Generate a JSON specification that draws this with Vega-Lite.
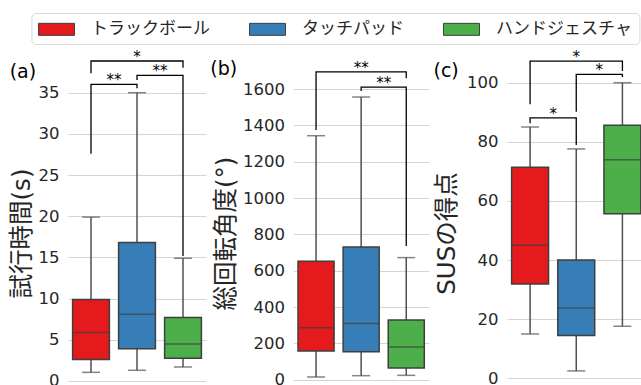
{
  "$schema": "https://vega.github.io/schema/vega-lite/v6.json",
  "padding": {"left": 9, "top": 12, "right": -3, "bottom": -5},
  "autosize": {"type": "pad"},
  "spacing": 3.5,
  "datasets": {
    "boxA": [
      {"cond": "トラックボール", "lo": 1.05, "q1": 2.6, "med": 5.9, "q3": 9.9, "hi": 19.9},
      {"cond": "タッチパッド", "lo": 1.3, "q1": 3.9, "med": 8.1, "q3": 16.8, "hi": 35.0},
      {"cond": "ハンドジェスチャ", "lo": 1.7, "q1": 2.75, "med": 4.5, "q3": 7.7, "hi": 14.9}
    ],
    "brA": [
      {"br": 1, "i": 1, "cond": "トラックボール", "v": 27.6},
      {"br": 1, "i": 2, "cond": "トラックボール", "v": 36.02},
      {"br": 1, "i": 3, "cond": "タッチパッド", "v": 36.02},
      {"br": 1, "i": 4, "cond": "タッチパッド", "v": 35.53},
      {"br": 2, "i": 1, "cond": "タッチパッド", "v": 36.54},
      {"br": 2, "i": 2, "cond": "タッチパッド", "v": 37.11},
      {"br": 2, "i": 3, "cond": "ハンドジェスチャ", "v": 37.11},
      {"br": 2, "i": 4, "cond": "ハンドジェスチャ", "v": 15.18},
      {"br": 3, "i": 1, "cond": "トラックボール", "v": 37.36},
      {"br": 3, "i": 2, "cond": "トラックボール", "v": 38.85},
      {"br": 3, "i": 3, "cond": "ハンドジェスチャ", "v": 38.85},
      {"br": 3, "i": 4, "cond": "ハンドジェスチャ", "v": 38.04}
    ],
    "txA": [
      {"cond": "トラックボール", "v": 36.02, "label": "**", "at": "gap"},
      {"cond": "タッチパッド", "v": 37.11, "label": "**", "at": "gap"},
      {"cond": "タッチパッド", "v": 38.85, "label": "*", "at": "mid"}
    ],
    "boxB": [
      {"cond": "トラックボール", "lo": 15, "q1": 158, "med": 286, "q3": 652, "hi": 1343},
      {"cond": "タッチパッド", "lo": 22, "q1": 154, "med": 310, "q3": 730, "hi": 1556},
      {"cond": "ハンドジェスチャ", "lo": 24, "q1": 64, "med": 180, "q3": 328, "hi": 672}
    ],
    "brB": [
      {"br": 1, "i": 1, "cond": "トラックボール", "v": 1374},
      {"br": 1, "i": 2, "cond": "トラックボール", "v": 1694},
      {"br": 1, "i": 3, "cond": "ハンドジェスチャ", "v": 1694},
      {"br": 1, "i": 4, "cond": "ハンドジェスチャ", "v": 1659},
      {"br": 2, "i": 1, "cond": "タッチパッド", "v": 1589},
      {"br": 2, "i": 2, "cond": "タッチパッド", "v": 1611},
      {"br": 2, "i": 3, "cond": "ハンドジェスチャ", "v": 1611},
      {"br": 2, "i": 4, "cond": "ハンドジェスチャ", "v": 736}
    ],
    "txB": [
      {"cond": "タッチパッド", "v": 1694, "label": "**", "at": "mid"},
      {"cond": "タッチパッド", "v": 1611, "label": "**", "at": "gap"}
    ],
    "boxC": [
      {"cond": "トラックボール", "lo": 15, "q1": 31.9, "med": 45, "q3": 71.4, "hi": 85},
      {"cond": "タッチパッド", "lo": 2.5, "q1": 14.5, "med": 23.8, "q3": 40, "hi": 77.6},
      {"cond": "ハンドジェスチャ", "lo": 17.6, "q1": 55.7, "med": 73.9, "q3": 85.6, "hi": 100}
    ],
    "brC": [
      {"br": 1, "i": 1, "cond": "トラックボール", "v": 92.7},
      {"br": 1, "i": 2, "cond": "トラックボール", "v": 107.3},
      {"br": 1, "i": 3, "cond": "ハンドジェスチャ", "v": 107.3},
      {"br": 1, "i": 4, "cond": "ハンドジェスチャ", "v": 104.0},
      {"br": 2, "i": 1, "cond": "タッチパッド", "v": 90.2},
      {"br": 2, "i": 2, "cond": "タッチパッド", "v": 102.8},
      {"br": 2, "i": 3, "cond": "ハンドジェスチャ", "v": 102.8},
      {"br": 2, "i": 4, "cond": "ハンドジェスチャ", "v": 101.9},
      {"br": 3, "i": 1, "cond": "トラックボール", "v": 86.3},
      {"br": 3, "i": 2, "cond": "トラックボール", "v": 88.1},
      {"br": 3, "i": 3, "cond": "タッチパッド", "v": 88.1},
      {"br": 3, "i": 4, "cond": "タッチパッド", "v": 78.9}
    ],
    "txC": [
      {"cond": "タッチパッド", "v": 107.3, "label": "*", "at": "mid"},
      {"cond": "タッチパッド", "v": 102.8, "label": "*", "at": "gap"},
      {"cond": "トラックボール", "v": 88.1, "label": "*", "at": "gap"}
    ]
  },
  "hconcat": [
    {
      "width": 138, "height": 304,
      "title": {"text": "(a)", "dx": -58.3, "dy": 36},
      "data": {"name": "boxA"},
      "layer": [
        {"mark": {"type": "rule", "color": "#505050", "strokeWidth": 1.5},
         "encoding": {
           "x": {"field": "cond", "type": "nominal", "sort": ["トラックボール", "タッチパッド", "ハンドジェスチャ"], "scale": {"type": "band", "domain": ["トラックボール", "タッチパッド", "ハンドジェスチャ"], "paddingInner": 0.2, "paddingOuter": 0.1}, "axis": null},
           "y": {"field": "lo", "type": "quantitative", "title": "試行時間(s)", "scale": {"domain": [-0.486, 36.42], "nice": false, "zero": false}, "axis": {"values": [0, 5, 10, 15, 20, 25, 30, 35], "format": "d"}},
           "y2": {"field": "q1"}}},
        {"mark": {"type": "rule", "color": "#505050", "strokeWidth": 1.5},
         "encoding": {"x": {"field": "cond", "type": "nominal"}, "y": {"field": "q3", "type": "quantitative", "title": "試行時間(s)", "axis": {"values": [0, 5, 10, 15, 20, 25, 30, 35], "format": "d"}}, "y2": {"field": "hi"}}},
        {"mark": {"type": "tick", "orient": "horizontal", "size": 18, "thickness": 1.5, "color": "#505050"},
         "encoding": {"x": {"field": "cond", "type": "nominal"}, "y": {"field": "lo", "type": "quantitative", "title": "試行時間(s)", "axis": {"values": [0, 5, 10, 15, 20, 25, 30, 35], "format": "d"}}}},
        {"mark": {"type": "tick", "orient": "horizontal", "size": 18, "thickness": 1.5, "color": "#505050"},
         "encoding": {"x": {"field": "cond", "type": "nominal"}, "y": {"field": "hi", "type": "quantitative", "title": "試行時間(s)", "axis": {"values": [0, 5, 10, 15, 20, 25, 30, 35], "format": "d"}}}},
        {"mark": {"type": "bar", "stroke": "#3f3f3f", "strokeWidth": 1.5, "opacity": 1},
         "encoding": {"x": {"field": "cond", "type": "nominal"}, "y": {"field": "q1", "type": "quantitative", "title": "試行時間(s)", "axis": {"values": [0, 5, 10, 15, 20, 25, 30, 35], "format": "d"}}, "y2": {"field": "q3"},
           "color": {"field": "cond", "type": "nominal", "scale": {"domain": ["トラックボール", "タッチパッド", "ハンドジェスチャ"], "range": ["#e41a1c", "#377eb8", "#4daf4a"]}, "legend": {"title": null, "legendX": -36.6, "legendY": -68}}}},
        {"mark": {"type": "tick", "orient": "horizontal", "size": 36.8, "thickness": 1.5, "color": "#3f3f3f"},
         "encoding": {"x": {"field": "cond", "type": "nominal"}, "y": {"field": "med", "type": "quantitative", "title": "試行時間(s)", "axis": {"values": [0, 5, 10, 15, 20, 25, 30, 35], "format": "d"}}}},
        {"data": {"name": "brA"}, "mark": {"type": "line", "color": "black", "strokeWidth": 1.3},
         "encoding": {"x": {"field": "cond", "type": "nominal"}, "y": {"field": "v", "type": "quantitative", "title": "試行時間(s)", "axis": {"values": [0, 5, 10, 15, 20, 25, 30, 35], "format": "d"}}, "detail": {"field": "br"}, "order": {"field": "i", "type": "quantitative"}}},
        {"data": {"name": "txA"}, "transform": [{"filter": "datum.at === 'gap'"}],
         "mark": {"type": "text", "dx": 23, "dy": 1, "fontSize": 15, "baseline": "alphabetic", "color": "black"},
         "encoding": {"x": {"field": "cond", "type": "nominal"}, "y": {"field": "v", "type": "quantitative", "title": "試行時間(s)", "axis": {"values": [0, 5, 10, 15, 20, 25, 30, 35], "format": "d"}}, "text": {"field": "label"}}},
        {"data": {"name": "txA"}, "transform": [{"filter": "datum.at === 'mid'"}],
         "mark": {"type": "text", "dx": 0, "dy": 1, "fontSize": 15, "baseline": "alphabetic", "color": "black"},
         "encoding": {"x": {"field": "cond", "type": "nominal"}, "y": {"field": "v", "type": "quantitative", "title": "試行時間(s)", "axis": {"values": [0, 5, 10, 15, 20, 25, 30, 35], "format": "d"}}, "text": {"field": "label"}}}
      ]
    },
    {
      "width": 135.3, "height": 304,
      "title": {"text": "(b)", "dx": -83.2, "dy": 22},
      "data": {"name": "boxB"},
      "layer": [
        {"mark": {"type": "rule", "color": "#505050", "strokeWidth": 1.5},
         "encoding": {
           "x": {"field": "cond", "type": "nominal", "sort": ["トラックボール", "タッチパッド", "ハンドジェスチャ"], "scale": {"type": "band", "domain": ["トラックボール", "タッチパッド", "ハンドジェスチャ"], "paddingInner": 0.2, "paddingOuter": 0.1}, "axis": null},
           "y": {"field": "lo", "type": "quantitative", "title": "総回転角度(°)", "scale": {"domain": [-29.2, 1644.2], "nice": false, "zero": false}, "axis": {"values": [0, 200, 400, 600, 800, 1000, 1200, 1400, 1600], "format": "d"}},
           "y2": {"field": "q1"}}},
        {"mark": {"type": "rule", "color": "#505050", "strokeWidth": 1.5},
         "encoding": {"x": {"field": "cond", "type": "nominal"}, "y": {"field": "q3", "type": "quantitative", "title": "総回転角度(°)", "axis": {"values": [0, 200, 400, 600, 800, 1000, 1200, 1400, 1600], "format": "d"}}, "y2": {"field": "hi"}}},
        {"mark": {"type": "tick", "orient": "horizontal", "size": 18, "thickness": 1.5, "color": "#505050"},
         "encoding": {"x": {"field": "cond", "type": "nominal"}, "y": {"field": "lo", "type": "quantitative", "title": "総回転角度(°)", "axis": {"values": [0, 200, 400, 600, 800, 1000, 1200, 1400, 1600], "format": "d"}}}},
        {"mark": {"type": "tick", "orient": "horizontal", "size": 18, "thickness": 1.5, "color": "#505050"},
         "encoding": {"x": {"field": "cond", "type": "nominal"}, "y": {"field": "hi", "type": "quantitative", "title": "総回転角度(°)", "axis": {"values": [0, 200, 400, 600, 800, 1000, 1200, 1400, 1600], "format": "d"}}}},
        {"mark": {"type": "bar", "stroke": "#3f3f3f", "strokeWidth": 1.5, "opacity": 1},
         "encoding": {"x": {"field": "cond", "type": "nominal"}, "y": {"field": "q1", "type": "quantitative", "title": "総回転角度(°)", "axis": {"values": [0, 200, 400, 600, 800, 1000, 1200, 1400, 1600], "format": "d"}}, "y2": {"field": "q3"},
           "color": {"field": "cond", "type": "nominal", "scale": {"domain": ["トラックボール", "タッチパッド", "ハンドジェスチャ"], "range": ["#e41a1c", "#377eb8", "#4daf4a"]}, "legend": {"title": null, "legendX": -36.6, "legendY": -68}}}},
        {"mark": {"type": "tick", "orient": "horizontal", "size": 36.1, "thickness": 1.5, "color": "#3f3f3f"},
         "encoding": {"x": {"field": "cond", "type": "nominal"}, "y": {"field": "med", "type": "quantitative", "title": "総回転角度(°)", "axis": {"values": [0, 200, 400, 600, 800, 1000, 1200, 1400, 1600], "format": "d"}}}},
        {"data": {"name": "brB"}, "mark": {"type": "line", "color": "black", "strokeWidth": 1.3},
         "encoding": {"x": {"field": "cond", "type": "nominal"}, "y": {"field": "v", "type": "quantitative", "title": "総回転角度(°)", "axis": {"values": [0, 200, 400, 600, 800, 1000, 1200, 1400, 1600], "format": "d"}}, "detail": {"field": "br"}, "order": {"field": "i", "type": "quantitative"}}},
        {"data": {"name": "txB"}, "transform": [{"filter": "datum.at === 'gap'"}],
         "mark": {"type": "text", "dx": 22.5, "dy": 1, "fontSize": 15, "baseline": "alphabetic", "color": "black"},
         "encoding": {"x": {"field": "cond", "type": "nominal"}, "y": {"field": "v", "type": "quantitative", "title": "総回転角度(°)", "axis": {"values": [0, 200, 400, 600, 800, 1000, 1200, 1400, 1600], "format": "d"}}, "text": {"field": "label"}}},
        {"data": {"name": "txB"}, "transform": [{"filter": "datum.at === 'mid'"}],
         "mark": {"type": "text", "dx": 0, "dy": 1, "fontSize": 15, "baseline": "alphabetic", "color": "black"},
         "encoding": {"x": {"field": "cond", "type": "nominal"}, "y": {"field": "v", "type": "quantitative", "title": "総回転角度(°)", "axis": {"values": [0, 200, 400, 600, 800, 1000, 1200, 1400, 1600], "format": "d"}}, "text": {"field": "label"}}}
      ]
    },
    {
      "width": 138.5, "height": 304,
      "title": {"text": "(c)", "dx": -73.5, "dy": 35},
      "data": {"name": "boxC"},
      "layer": [
        {"mark": {"type": "rule", "color": "#505050", "strokeWidth": 1.5},
         "encoding": {
           "x": {"field": "cond", "type": "nominal", "sort": ["トラックボール", "タッチパッド", "ハンドジェスチャ"], "scale": {"type": "band", "domain": ["トラックボール", "タッチパッド", "ハンドジェスチャ"], "paddingInner": 0.2, "paddingOuter": 0.1}, "axis": null},
           "y": {"field": "lo", "type": "quantitative", "title": "SUSの得点", "scale": {"domain": [-2.27, 100.58], "nice": false, "zero": false}, "axis": {"values": [0, 20, 40, 60, 80, 100], "format": "d", "titlePadding": 7}},
           "y2": {"field": "q1"}}},
        {"mark": {"type": "rule", "color": "#505050", "strokeWidth": 1.5},
         "encoding": {"x": {"field": "cond", "type": "nominal"}, "y": {"field": "q3", "type": "quantitative", "title": "SUSの得点", "axis": {"values": [0, 20, 40, 60, 80, 100], "format": "d", "titlePadding": 7}}, "y2": {"field": "hi"}}},
        {"mark": {"type": "tick", "orient": "horizontal", "size": 18, "thickness": 1.5, "color": "#505050"},
         "encoding": {"x": {"field": "cond", "type": "nominal"}, "y": {"field": "lo", "type": "quantitative", "title": "SUSの得点", "axis": {"values": [0, 20, 40, 60, 80, 100], "format": "d", "titlePadding": 7}}}},
        {"mark": {"type": "tick", "orient": "horizontal", "size": 18, "thickness": 1.5, "color": "#505050"},
         "encoding": {"x": {"field": "cond", "type": "nominal"}, "y": {"field": "hi", "type": "quantitative", "title": "SUSの得点", "axis": {"values": [0, 20, 40, 60, 80, 100], "format": "d", "titlePadding": 7}}}},
        {"mark": {"type": "bar", "stroke": "#3f3f3f", "strokeWidth": 1.5, "opacity": 1},
         "encoding": {"x": {"field": "cond", "type": "nominal"}, "y": {"field": "q1", "type": "quantitative", "title": "SUSの得点", "axis": {"values": [0, 20, 40, 60, 80, 100], "format": "d", "titlePadding": 7}}, "y2": {"field": "q3"},
           "color": {"field": "cond", "type": "nominal", "scale": {"domain": ["トラックボール", "タッチパッド", "ハンドジェスチャ"], "range": ["#e41a1c", "#377eb8", "#4daf4a"]}, "legend": {"title": null, "legendX": -36.6, "legendY": -68}}}},
        {"mark": {"type": "tick", "orient": "horizontal", "size": 37, "thickness": 1.5, "color": "#3f3f3f"},
         "encoding": {"x": {"field": "cond", "type": "nominal"}, "y": {"field": "med", "type": "quantitative", "title": "SUSの得点", "axis": {"values": [0, 20, 40, 60, 80, 100], "format": "d", "titlePadding": 7}}}},
        {"data": {"name": "brC"}, "mark": {"type": "line", "color": "black", "strokeWidth": 1.3},
         "encoding": {"x": {"field": "cond", "type": "nominal"}, "y": {"field": "v", "type": "quantitative", "title": "SUSの得点", "axis": {"values": [0, 20, 40, 60, 80, 100], "format": "d", "titlePadding": 7}}, "detail": {"field": "br"}, "order": {"field": "i", "type": "quantitative"}}},
        {"data": {"name": "txC"}, "transform": [{"filter": "datum.at === 'gap'"}],
         "mark": {"type": "text", "dx": 23.1, "dy": 1, "fontSize": 15, "baseline": "alphabetic", "color": "black"},
         "encoding": {"x": {"field": "cond", "type": "nominal"}, "y": {"field": "v", "type": "quantitative", "title": "SUSの得点", "axis": {"values": [0, 20, 40, 60, 80, 100], "format": "d", "titlePadding": 7}}, "text": {"field": "label"}}},
        {"data": {"name": "txC"}, "transform": [{"filter": "datum.at === 'mid'"}],
         "mark": {"type": "text", "dx": 0, "dy": 1, "fontSize": 15, "baseline": "alphabetic", "color": "black"},
         "encoding": {"x": {"field": "cond", "type": "nominal"}, "y": {"field": "v", "type": "quantitative", "title": "SUSの得点", "axis": {"values": [0, 20, 40, 60, 80, 100], "format": "d", "titlePadding": 7}}, "text": {"field": "label"}}}
      ]
    }
  ],
  "config": {
    "font": "DejaVu Sans, Noto Sans CJK JP",
    "view": {"stroke": null},
    "axis": {"domain": false, "ticks": false, "tickSize": 0, "grid": true, "gridColor": "#d4d4d4", "gridWidth": 1, "labelFontSize": 16.5, "labelColor": "#262626", "labelPadding": 9, "titleFontSize": 24.5, "titleFontWeight": "normal", "titleColor": "#262626", "titlePadding": 4},
    "legend": {"orient": "none", "direction": "horizontal", "columns": 3, "symbolType": "M-2,-0.667H2V0.667H-2Z", "symbolSize": 324, "symbolOffset": 9, "symbolStrokeColor": "#3f3f3f", "symbolStrokeWidth": 1, "symbolOpacity": 1, "labelFontSize": 17, "labelColor": "#262626", "labelOffset": 25.1, "columnPadding": 36, "padding": 6.6, "strokeColor": "#d9d9d9", "fillColor": "white", "cornerRadius": 4},
    "title": {"fontSize": 19, "fontWeight": "normal", "color": "black", "anchor": "start", "frame": "group", "offset": 0}
  }
}
